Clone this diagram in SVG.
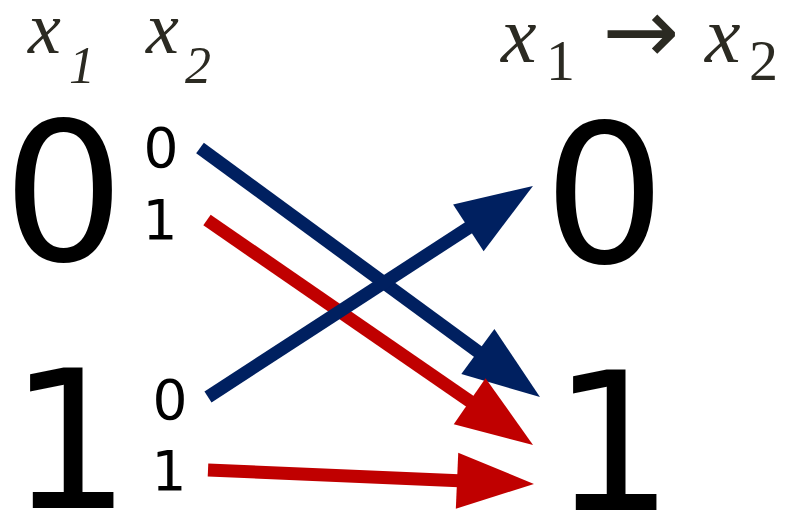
<svg xmlns="http://www.w3.org/2000/svg" width="785" height="513" viewBox="0 0 785 513">
<style>
.big{font-family:"DejaVu Sans",sans-serif;font-size:192px;fill:#000;text-anchor:middle}
.small{font-family:"DejaVu Sans",sans-serif;font-size:55px;fill:#000;text-anchor:middle}
.it{font-family:"Liberation Serif",serif;font-style:italic;fill:#2b2a22}
.rm{font-family:"Liberation Serif",serif;fill:#2b2a22;text-anchor:middle}
.blue{stroke:#002060;stroke-width:13;fill:none}
.red{stroke:#C00000;stroke-width:13;fill:none}
</style>
<defs>
<marker id="ab" markerUnits="userSpaceOnUse" markerWidth="80" markerHeight="60" viewBox="0 -30 80 60" refX="37" refY="0" orient="auto" overflow="visible">
<path d="M0,-28 L77,0 L0,28 Z" fill="#002060"/>
</marker>
<marker id="ar" markerUnits="userSpaceOnUse" markerWidth="80" markerHeight="60" viewBox="0 -30 80 60" refX="37" refY="0" orient="auto" overflow="visible">
<path d="M0,-28 L77,0 L0,28 Z" fill="#C00000"/>
</marker>
</defs>
<g id="labels">
<text class="it" x="28" y="53" font-size="74">x</text>
<text class="it" x="82" y="83" font-size="52" text-anchor="middle">1</text>
<text class="it" x="146" y="53" font-size="74">x</text>
<text class="it" x="198" y="83" font-size="52" text-anchor="middle">2</text>
<text class="it" x="501" y="62" font-size="80">x</text>
<text class="rm" x="560.5" y="80" font-size="58">1</text>
<text x="641" y="63" font-family="DejaVu Sans,sans-serif" font-size="92" fill="#2b2a22" text-anchor="middle">→</text>
<text class="it" x="705" y="62" font-size="80">x</text>
<text class="rm" x="763.5" y="80" font-size="58">2</text>
</g>
<g id="node-left-0">
<text class="big" x="63.5" y="260">0</text>
<text class="small" x="161" y="167">0</text>
<text class="small" x="160" y="239">1</text>
</g>
<g id="node-left-1">
<text class="big" x="70" y="508">1</text>
<text class="small" x="170" y="419">0</text>
<text class="small" x="169" y="490">1</text>
</g>
<g id="node-right-0">
<text class="big" x="604.5" y="262">0</text>
</g>
<g id="node-right-1">
<text class="big" x="613" y="510">1</text>
</g>
<g id="connectors">
<line class="blue" x1="200" y1="148" x2="507.7" y2="373.4" marker-end="url(#ab)"/>
<line class="red" x1="207" y1="220" x2="500.1" y2="422.2" marker-end="url(#ar)"/>
<line class="red" x1="208" y1="470" x2="494" y2="482.3" marker-end="url(#ar)"/>
<line class="blue" x1="208" y1="397" x2="499.4" y2="207.7" marker-end="url(#ab)"/>
</g>
</svg>
